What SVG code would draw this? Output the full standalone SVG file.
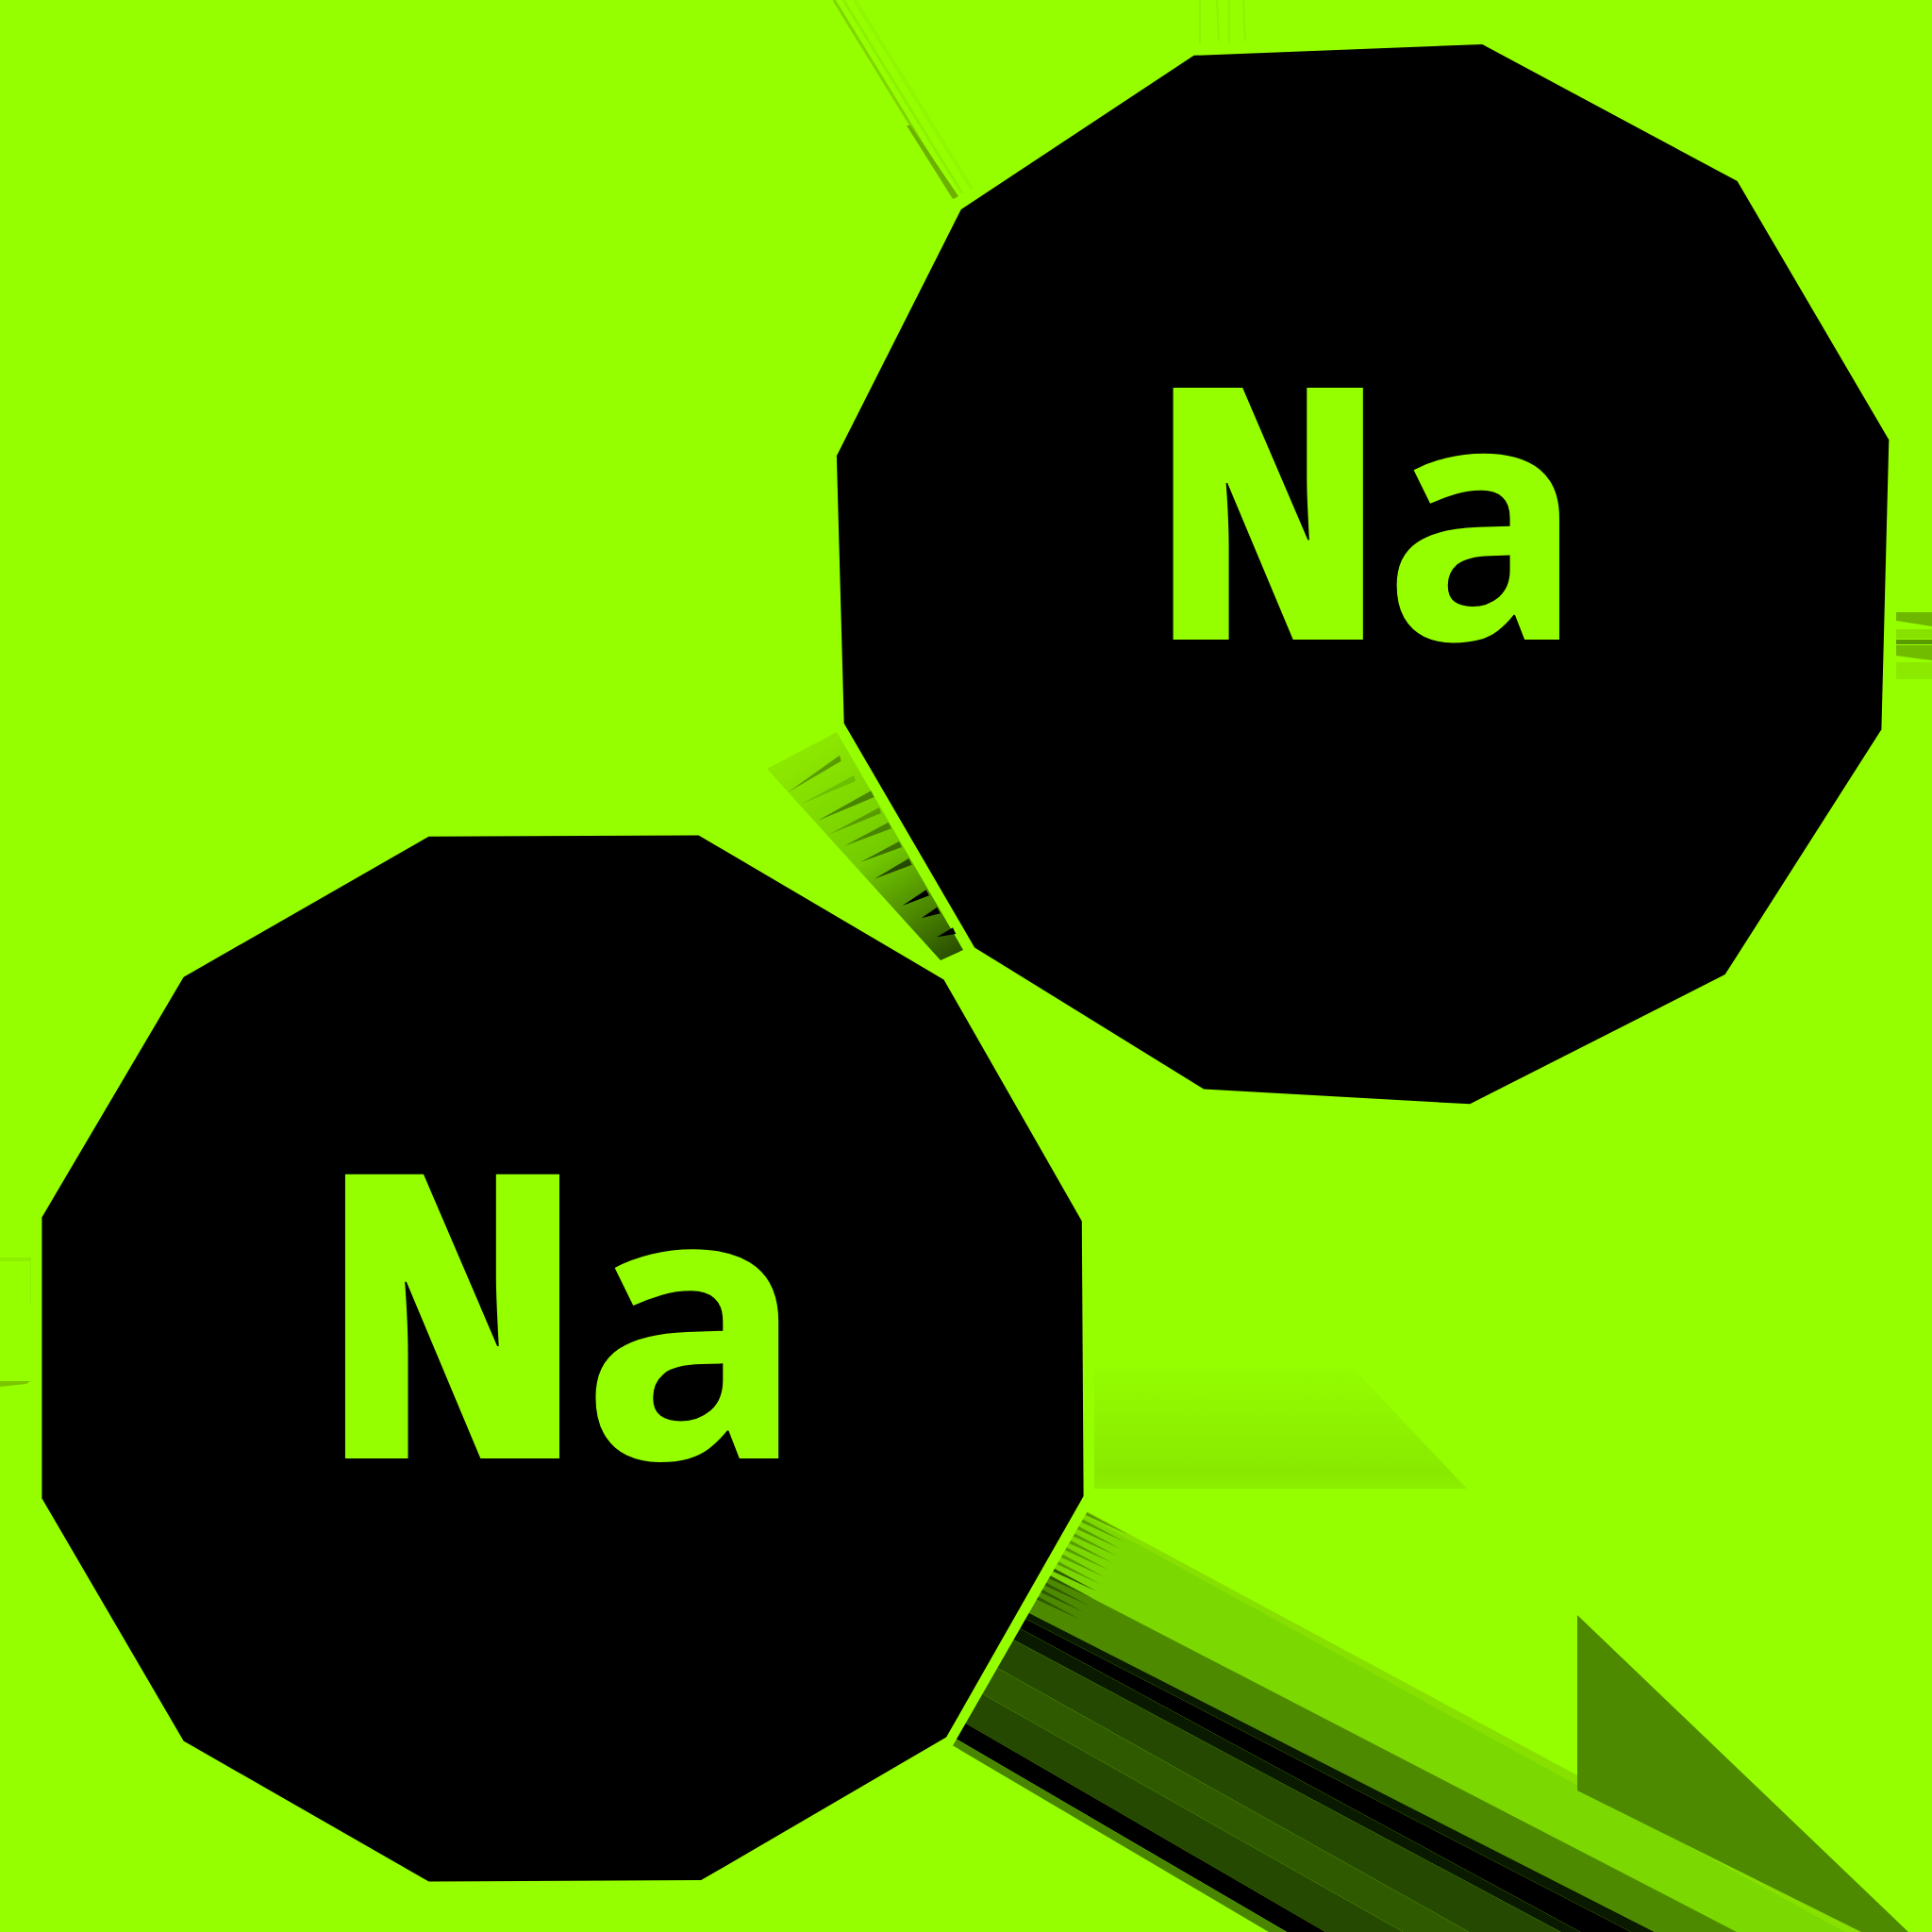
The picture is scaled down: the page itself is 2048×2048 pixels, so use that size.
<svg xmlns="http://www.w3.org/2000/svg" width="2048" height="2048" viewBox="0 0 2048 2048">
  <style>
    .atom { fill: #000000; }
    .label { font-family: "Open Sans", "Noto Sans", "Liberation Sans", sans-serif; font-weight: 780; font-stretch: 87.5%; fill: #95ff00; text-anchor: start; }
    .label .lc { font-weight: 670; font-stretch: 100%; }
  </style>
  <defs>
    <clipPath id="bandClip">
      <polygon points="1268.7,1400 2100,1400 2100,2100 866.7,2100"/>
    </clipPath>
    <linearGradient id="midGrad" gradientUnits="userSpaceOnUse" x1="850" y1="795" x2="1009" y2="1012">
      <stop offset="0" stop-color="#8de800"/>
      <stop offset="0.5" stop-color="#74cc00"/>
      <stop offset="0.8" stop-color="#4a8500"/>
      <stop offset="1" stop-color="#2a5000"/>
    </linearGradient>
    <linearGradient id="faintGrad" gradientUnits="userSpaceOnUse" x1="0" y1="1448" x2="0" y2="1578">
      <stop offset="0" stop-color="#94fd00"/>
      <stop offset="0.85" stop-color="#89ea00"/>
      <stop offset="1" stop-color="#8cee00"/>
    </linearGradient>
  </defs>

  <rect x="0" y="0" width="2048" height="2048" fill="#95ff00"/>

  <g id="shadows">
    <line x1="884" y1="0" x2="1013" y2="210" stroke="#80d400" stroke-width="3"/>
    <line x1="894" y1="0" x2="1020" y2="205" stroke="#8ef000" stroke-width="3"/>
    <line x1="906" y1="0" x2="1030" y2="200" stroke="#91f600" stroke-width="4"/>
    <polygon points="961,133 965,133 1016,208 1010,211" fill="#6cb000"/>
    <g stroke="#8ff300" stroke-width="2">
      <line x1="1272" y1="0" x2="1272" y2="46"/>
      <line x1="1290" y1="0" x2="1292" y2="44"/>
      <line x1="1303" y1="0" x2="1303" y2="46"/>
      <line x1="1318" y1="0" x2="1320" y2="44"/>
    </g>

    <polygon points="2010,649 2048,649 2048,664 2010,658" fill="#6fb800"/>
    <rect x="2010" y="667" width="38" height="10" fill="#88e200"/>
    <rect x="2010" y="678" width="38" height="5" fill="#5a9c00"/>
    <polygon points="2010,684 2048,684 2048,700 2010,695" fill="#72bc00"/>
    <rect x="2010" y="702" width="38" height="18" fill="#8cea00"/>

    <rect x="0" y="1333" width="32" height="4" fill="#8cf000"/>
    <line x1="32.5" y1="1332" x2="32.5" y2="1382" stroke="#8cf000" stroke-width="1"/>
    <polygon points="0,1464 32,1464 28,1467 0,1470" fill="#7cc800"/>

    <polygon points="813,815 887,776 1021,1007 997,1018" fill="url(#midGrad)"/>
    <polygon points="835,840 890,800.7 891.7,806.7" fill="#5a9c00"/>
    <polygon points="850,852 905,822 907,828" fill="#6cc000"/>
    <polygon points="866.7,870 923.3,838.3 926.7,845" fill="#4a8500"/>
    <polygon points="880,884 932,856 934,862" fill="#5a9c00"/>
    <polygon points="895,896.7 941.7,871.7 945,878.3" fill="#4a8500"/>
    <polygon points="912,914 953,892 956,898" fill="#3d7000"/>
    <polygon points="926.7,931.7 963.3,910 966.7,916.7" fill="#254900"/>
    <polygon points="956.7,960 981.7,943.3 985,949.3" fill="#000000"/>
    <polygon points="976.7,973.3 993.3,961.7 996.7,968.3" fill="#000000"/>
    <polygon points="993.3,993.3 1010,983.3 1013.3,990" fill="#000000"/>

    <polygon points="1160,1448 1432,1448 1555,1578 1160,1578" fill="url(#faintGrad)"/>

    <g clip-path="url(#bandClip)">
      <polygon points="900,1466.1 2100,2112.4 2100,2126.6 900,1469" fill="#88e000"/>
      <polygon points="900,1469 2100,2126.6 2100,2182.1 900,1560.5" fill="#7bd800"/>
      <polygon points="900,1560.5 2100,2182.1 2100,2224.5 900,1612.5" fill="#4e8a00"/>
      <polygon points="900,1612.5 2100,2224.5 2100,2240 900,1619" fill="#0a1a00"/>
      <polygon points="900,1619 2100,2240 2100,2278 900,1628" fill="#000000"/>
      <polygon points="900,1628 2100,2278 2100,2286 900,1645" fill="#0a1a00"/>
      <polygon points="900,1645 2100,2286 2100,2352 900,1680" fill="#254900"/>
      <polygon points="900,1680 2100,2352 2100,2394.7 900,1715.5" fill="#2f5a00"/>
      <polygon points="900,1715.5 2100,2394.7 2100,2451 900,1755" fill="#254900"/>
      <polygon points="900,1755 2100,2451 2100,2477.8 900,1777" fill="#000000"/>
      <polygon points="900,1777 2100,2477.8 2100,2493.5 900,1785.5" fill="#4a8500"/>
      <g fill="#5a9c00">
        <polygon points="1152.1,1603 1196.1,1626.7 1150.4,1606"/>
        <polygon points="1147.9,1610.5 1191.9,1634.2 1146.2,1613.5"/>
        <polygon points="1143.6,1617.9 1187.6,1641.7 1141.9,1620.9"/>
        <polygon points="1139.3,1625.4 1183.3,1649.1 1137.6,1628.4"/>
        <polygon points="1135,1632.9 1179,1656.6 1133.3,1635.9"/>
        <polygon points="1130.7,1640.3 1174.7,1664.1 1129,1643.3"/>
        <polygon points="1126.4,1647.8 1170.4,1671.6 1124.7,1650.8"/>
        <polygon points="1122.1,1655.3 1166.1,1679 1120.4,1658.3"/>
      </g>
      <g fill="#2f5a00">
        <polygon points="1117.8,1662.7 1161.8,1686.5 1116.1,1665.7"/>
        <polygon points="1113.5,1670.2 1157.5,1694 1111.8,1673.2"/>
        <polygon points="1109.2,1677.7 1153.2,1701.4 1107.5,1680.7"/>
        <polygon points="1104.9,1685.1 1148.9,1708.9 1103.2,1688.1"/>
        <polygon points="1100.6,1692.6 1144.6,1716.4 1098.9,1695.6"/>
      </g>
    </g>
    <polygon points="1672,1712 2023,2048 1973,2048 1672,1898" fill="#4e8a00"/>
  </g>

  <g id="connectors"></g>

  <g id="node-na-top">
    <polygon class="atom" points="1265.6,58.8 1571.3,47 1841.6,192 2002.3,466.3 1994.4,773.2 1828.6,1033.1 1558.2,1170.3 1276.1,1154.6 1033.1,1004.4 894.7,766.7 886.9,483.3 1018.8,222"/>
    <text class="label" font-size="374" x="1221.5" y="678">N<tspan class="lc" dx="-1" font-size="354">a</tspan></text>
  </g>

  <g id="node-na-bottom">
    <polygon class="atom" points="454.5,886.8 740.6,885.5 1000.5,1038.4 1146.8,1294.4 1148.6,1586 1003.1,1841.6 743.2,1993.1 454.5,1994.4 194.6,1845.5 44.4,1588.2 44.4,1290.4 194.6,1035.7"/>
    <text class="label" font-size="422" x="341" y="1546">N<tspan class="lc" dx="-3" font-size="398">a</tspan></text>
  </g>
</svg>
